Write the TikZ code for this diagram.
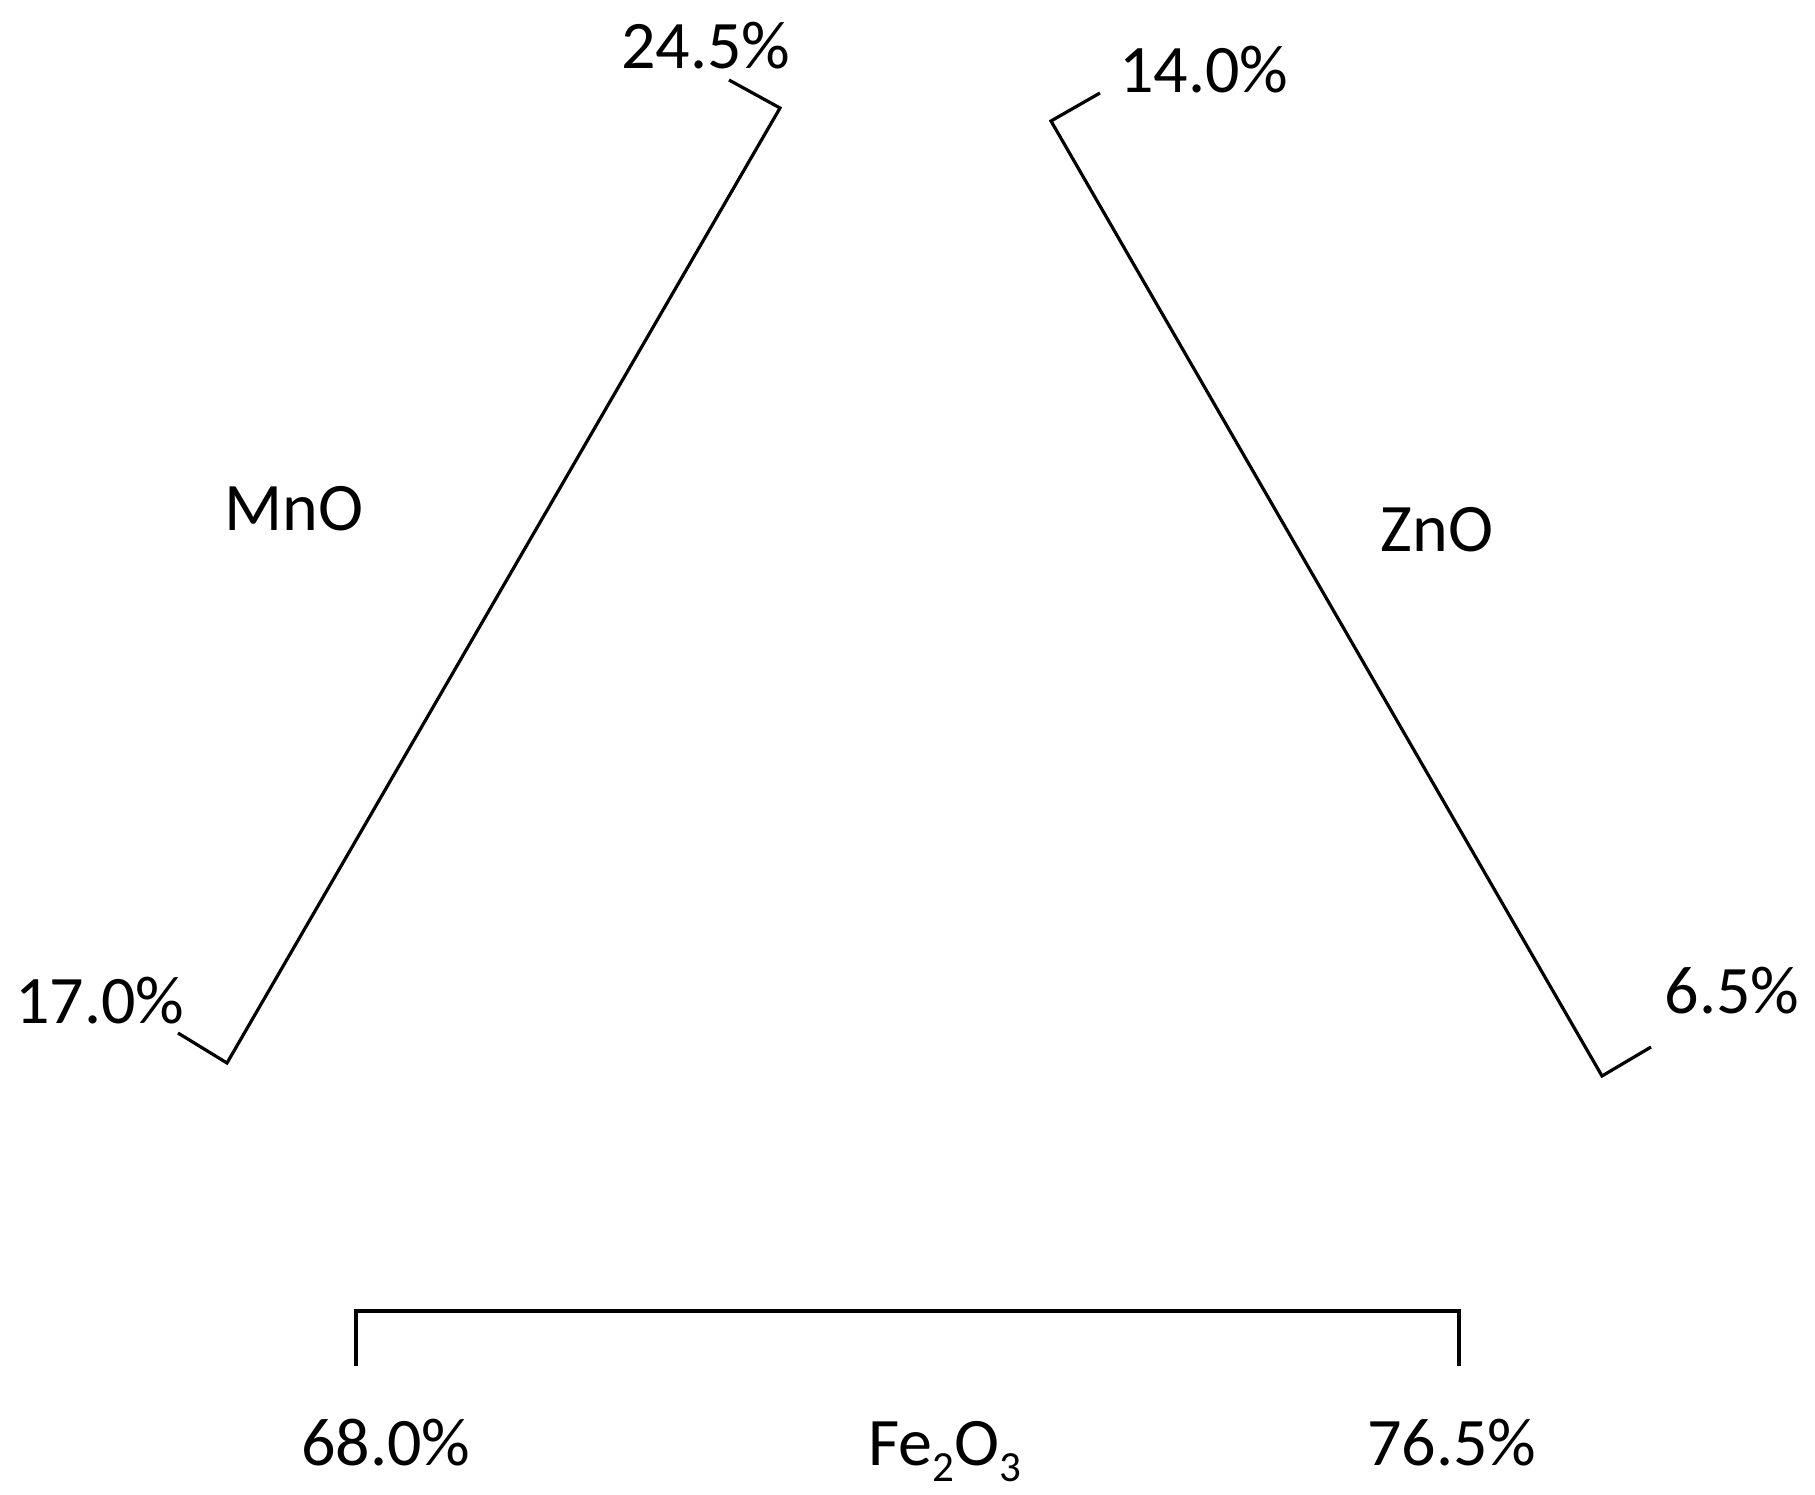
\documentclass[tikz,border=0pt]{standalone}
\usepackage{fontspec}
\setmainfont{Carlito}
\newcommand{\subdig}[1]{\raisebox{-8pt}{\fontsize{21.5pt}{24pt}\selectfont #1}}
\begin{document}
\begin{tikzpicture}[x=0.5pt,y=-0.5pt,
  lbl/.style={inner sep=0pt,font=\fontsize{34pt}{40pt}\selectfont,anchor=base},
  brk/.style={line width=1.6pt,line join=miter,line cap=butt}]
\useasboundingbox (0,0) rectangle (1815,1494);
% left bracket (MnO)
\coordinate (lt) at (729,80);
\coordinate (lc) at (780,108);
\coordinate (bc) at (227,1063);
\coordinate (bt) at (178,1033);
\draw[brk] (lt) -- (lc) -- (bc) -- (bt);
% right bracket (ZnO)
\coordinate (rt) at (1100,93);
\coordinate (rc) at (1051,121);
\coordinate (rbc) at (1602,1076);
\coordinate (rbt) at (1651,1047);
\draw[brk] (rt) -- (rc) -- (rbc) -- (rbt);
% bottom bracket (Fe2O3)
\coordinate (fl) at (356,1366);
\coordinate (flc) at (356,1311);
\coordinate (frc) at (1459,1311);
\coordinate (fr) at (1459,1366);
\draw[brk] (fl) -- (flc) -- (frc) -- (fr);
% labels
\node[lbl] (a1) at (706,68) {24.5\%};
\node[lbl] (a2) at (100,1023) {17.0\%};
\node[lbl] (mno) at (294,530) {MnO};
\node[lbl] (b1) at (1204,92) {14.0\%};
\node[lbl] (b2) at (1732,1013) {6.5\%};
\node[lbl] (zno) at (1437,551) {ZnO};
\node[lbl] (c1) at (386,1465) {68.0\%};
\node[lbl] (c2) at (1452,1465) {76.5\%};
\node[lbl,anchor=base west] (fe) at (868,1465) {Fe\subdig{2}O\subdig{3}};
\end{tikzpicture}
\end{document}
